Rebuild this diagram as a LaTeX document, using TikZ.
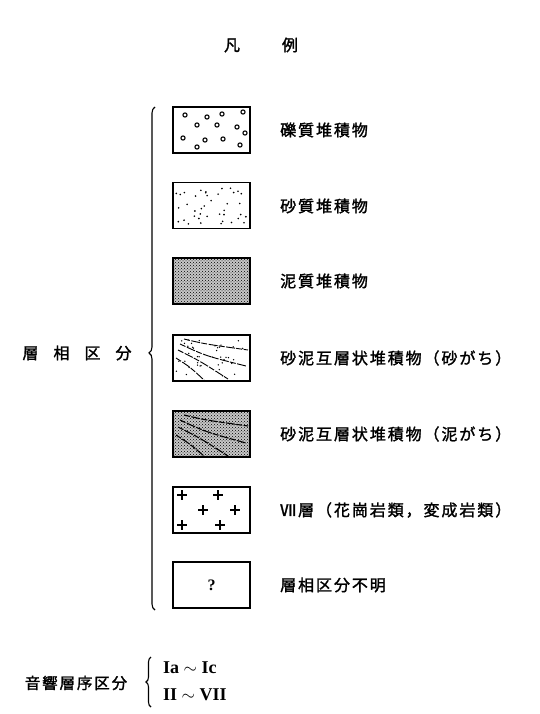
\documentclass[tikz,border=0pt]{standalone}
\usepackage{fontspec}
\setmainfont{Liberation Serif}
\newfontfamily\cjk[LetterSpace=12,FakeBold=1.6]{Noto Sans CJK JP}
\newfontfamily\cjkn[FakeBold=1.6]{Noto Sans CJK JP}
\usetikzlibrary{decorations.pathreplacing,patterns}
\begin{document}
\begin{tikzpicture}[x=1pt,y=-1pt,
  legbox/.style={draw,line width=1.6pt,minimum width=77pt,minimum height=46pt,inner sep=0pt},
  lab/.style={anchor=west,inner sep=0pt,font=\cjk\fontsize{16}{19}\selectfont},
  big/.style={inner sep=0pt,font=\cjkn\fontsize{16}{19}\selectfont},
  roman/.style={anchor=west,inner sep=0pt,font=\bfseries\fontsize{18}{20}\selectfont},
  brc/.style={decorate,line width=1.1pt},
  strata/.style={line width=0.9pt,dash pattern=on 6pt off 1.5pt on 9pt off 1.2pt}]
\useasboundingbox (0,0) rectangle (539,714);

% title
\node[big] (title) at (261,45) {凡\hspace{42pt}例};

% boxes
\node[legbox] (b1) at (211.5,130) {};
\node[legbox] (b2) at (211.5,205.5) {};
\node[legbox,preaction={fill=black!22},pattern=crosshatch dots] (b3) at (211.5,281) {};
\node[legbox] (b4) at (211.5,358) {};
\node[legbox,preaction={fill=black!22},pattern=crosshatch dots] (b5) at (211.5,434) {};
\node[legbox] (b6) at (211.5,510) {};
\node[legbox,font=\bfseries\fontsize{16}{18}\selectfont] (b7) at (211.5,585) {?};

% gravel
\foreach \p in {(185,115),(207,117),(222,114),(243,112),(197,125),(217,125),(237,127),
                (183,138),(205,140),(223,139),(245,133),(197,147),(240,145)}
  \draw[line width=1.1pt] \p circle (2.1);

% sand dots
\pgfmathsetseed{7}
\foreach \i in {1,...,40}{
  \pgfmathsetmacro\xx{176+rnd*71}
  \pgfmathsetmacro\yy{186+rnd*39}
  \fill (\xx,\yy) circle (0.9);
}

% sandy alternation
\pgfmathsetseed{11}
\foreach \i in {1,...,40}{
  \pgfmathsetmacro\xx{176+rnd*71}
  \pgfmathsetmacro\yy{338+rnd*40}
  \fill (\xx,\yy) circle (0.75);
}
\draw[strata] (184,339) .. controls (205,344) .. (248,350);
\draw[strata] (180,344) .. controls (206,356) .. (246,366);
\draw[strata] (178,350) .. controls (200,361) .. (228,379);
\draw[strata] (176,358) .. controls (190,367) .. (204,380);

% muddy alternation
\draw[strata,line width=1.1pt] (184,415) .. controls (205,420) .. (248,426);
\draw[strata,line width=1.1pt] (180,420) .. controls (206,432) .. (246,443);
\draw[strata,line width=1.1pt] (178,427) .. controls (200,438) .. (228,456);
\draw[strata,line width=1.1pt] (176,435) .. controls (190,444) .. (204,456);

% granite crosses
\foreach \p in {(182,495),(218,495),(203,510),(235,510),(182,525),(220,525)}
  \draw[line width=1.1pt] \p ++(-5,0) -- ++(10,0) \p ++(0,-5) -- ++(0,10);

% labels
\node[lab] (t1) at (280,130) {礫質堆積物};
\node[lab] (t2) at (280,206) {砂質堆積物};
\node[lab] (t3) at (280,281) {泥質堆積物};
\node[lab] (t4) at (280,358) {砂泥互層状堆積物（砂がち）};
\node[lab] (t5) at (280,434) {砂泥互層状堆積物（泥がち）};
\node[lab] (t6) at (280,510) {Ⅶ層（花崗岩類，変成岩類）};
\node[lab] (t7) at (280,585) {層相区分不明};

% facies brace
\coordinate (bb) at (155,610);
\coordinate (bt) at (155,107);
\draw[brc,decoration={brace,amplitude=6pt,aspect=0.511}] (bb) -- (bt);
\node[big] (facies) at (77,353) {層\hspace{15pt}相\hspace{15pt}区\hspace{15pt}分};

% seismic stratigraphy
\node[big,font=\cjk\fontsize{15.5}{18}\selectfont] (seis) at (76,683) {音響層序区分};
\coordinate (sb) at (151,707);
\coordinate (st) at (151,657);
\draw[brc,decoration={brace,amplitude=5pt}] (sb) -- (st);
\node[roman] (r1) at (163,668) {Ia $\sim$ Ic};
\node[roman] (r2) at (163,695) {II $\sim$ VII};
\end{tikzpicture}
\end{document}
